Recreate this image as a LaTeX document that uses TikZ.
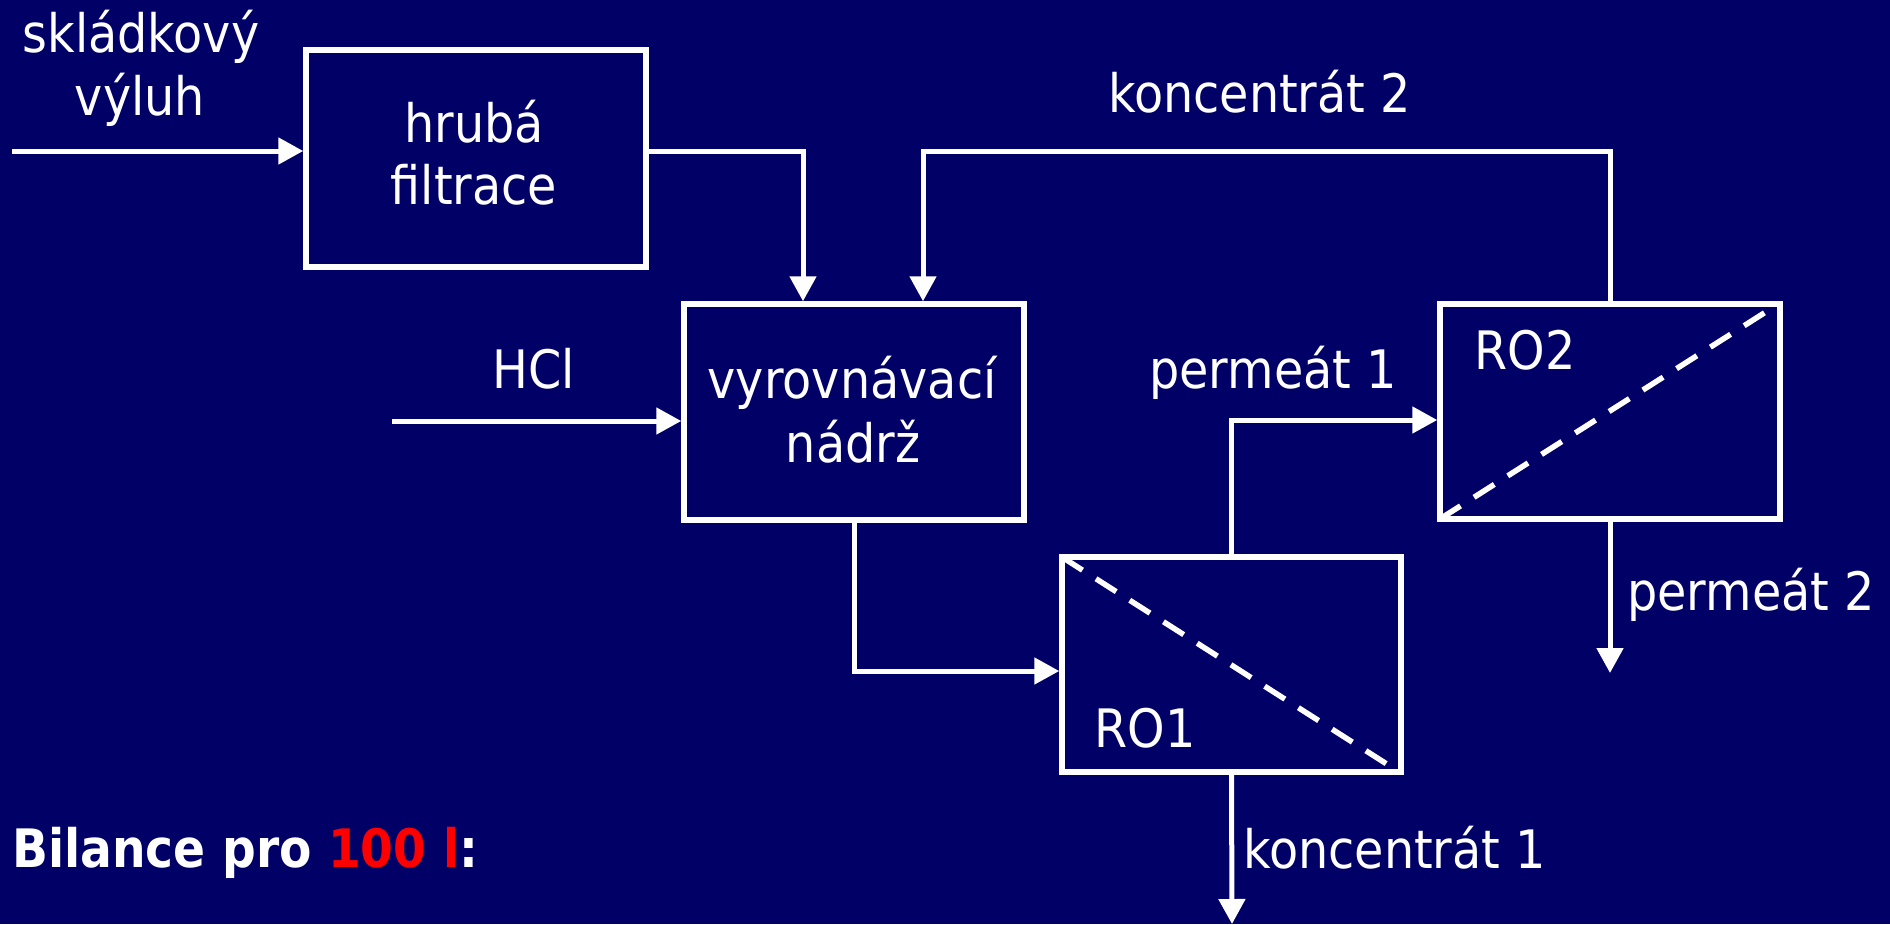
\documentclass[tikz,border=0pt]{standalone}
\usepackage{fontspec}
\setmainfont{DejaVu Sans}[FakeStretch=0.9]
\newfontfamily\boldfam{DejaVu Sans}[FakeStretch=0.89]
\usetikzlibrary{arrows.meta}
\definecolor{bg}{RGB}{0,0,102}
\definecolor{hot}{RGB}{255,0,0}
\tikzset{
  box/.style={draw=white, line width=5.5pt, inner sep=0pt},
  arr/.style={draw=white, line width=5pt, -{Triangle[length=25pt,width=26pt]}},
  membrane/.style={draw=white, line width=5.5pt, dash pattern=on 24pt off 16pt},
  lbl/.style={text=white, inner sep=0pt, anchor=base, font=\fontsize{53}{62}\selectfont},
}
\begin{document}
\begin{tikzpicture}[x=1pt, y=-1pt]
\fill[bg] (0,0) rectangle (1890,924);
\useasboundingbox (0,0) rectangle (1890,924);

% boxes
\node[box, minimum width=340pt, minimum height=217pt] (hf) at (476,158.5) {};
\node[box, minimum width=340pt, minimum height=216pt] (vyr) at (854,412) {};
\node[box, minimum width=339pt, minimum height=215pt] (ro1) at (1231.5,664.5) {};
\node[box, minimum width=340pt, minimum height=215pt] (ro2) at (1610,411.5) {};

% membranes
\draw[membrane] ([shift={(3,3)}]ro1.north west) -- ([shift={(-8,-5)}]ro1.south east);
\draw[membrane] ([shift={(3,-3)}]ro2.south west) -- ([shift={(-8,5)}]ro2.north east);

% texts
\node[lbl] (t1) at (141,52) {skládkový};
\node[lbl] (t2) at (140,115) {výluh};
\node[lbl] (t3) at (474,142) {hrubá};
\node[lbl] (t4) at (474,204) {filtrace};
\node[lbl] (t5) at (852,398) {vyrovnávací};
\node[lbl] (t6) at (853,462) {nádrž};
\node[lbl] (t7) at (534,388) {HCl};
\node[lbl] (t8) at (1273,388) {permeát 1};
\node[lbl] (t9) at (1145,747) {RO1};
\node[lbl] (t10) at (1525,369) {RO2};
\node[lbl] (t11) at (1751,610) {permeát 2};
\node[lbl] (t12) at (1394.5,868) {koncentrát 1};
\node[lbl] (t13) at (1259.5,112) {koncentrát 2};
\node[lbl, anchor=base west, font=\boldfam\bfseries\fontsize{53}{62}\selectfont] (t14) at (12,867) {Bilance pro \textcolor{hot}{100 l}:};

% connector points
\coordinate (inS) at (12,151);
\coordinate (k1) at (803,151);
\coordinate (k2) at (923,151);
\coordinate (hclS) at (392,421);
\coordinate (k3) at (854,671);
\coordinate (k4) at (1232,420);
\coordinate (p2) at (1610,673);
\coordinate (c1) at (1232,924);

% connectors
\draw[arr] (inS) -- (inS -| hf.west);
\draw[arr] (hf.east |- k1) -| (k1 |- vyr.north);
\draw[arr] (hclS) -- (hclS -| vyr.west);
\draw[arr] (ro2.north) |- (k2) -- (k2 |- vyr.north);
\draw[arr] (vyr.south) |- (k3 -| ro1.west);
\draw[arr] (ro1.north) |- (k4 -| ro2.west);
\draw[arr] (ro2.south) -- (p2);
\draw[arr] (ro1.south) -- (c1);
\end{tikzpicture}
\end{document}
